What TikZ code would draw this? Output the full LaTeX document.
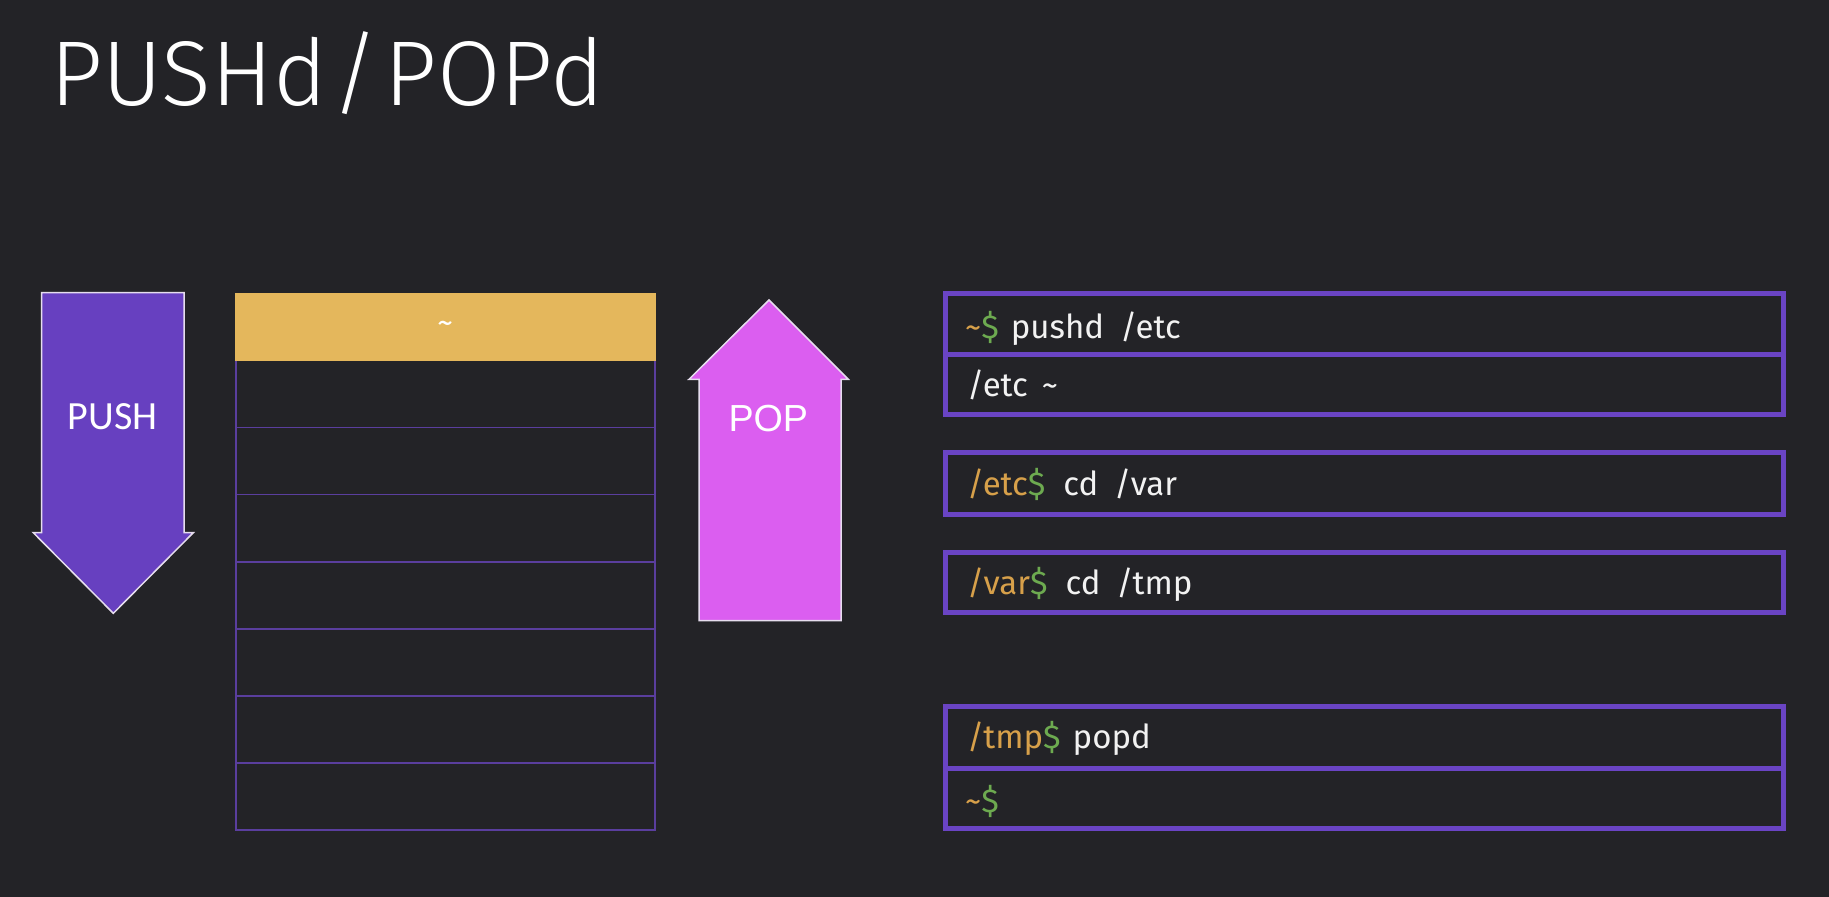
\documentclass[tikz,border=0pt]{standalone}
\usepackage{fontspec}
\setmainfont{Fira Sans}
\newfontfamily\titlefont{Fira Sans Light}
\newfontfamily\pushfont{Carlito}
\newfontfamily\popfont{Liberation Sans}
\definecolor{bgc}{HTML}{232327}
\definecolor{pushc}{HTML}{6740C0}
\definecolor{popc}{HTML}{DB5EF0}
\definecolor{topc}{HTML}{E4B75C}
\definecolor{stackc}{HTML}{5A3E9E}
\definecolor{termc}{HTML}{6A44C4}
\definecolor{promptc}{HTML}{D7A04A}
\definecolor{dollarc}{HTML}{6DAA50}
\definecolor{cmdc}{HTML}{F2F2F2}
\definecolor{edgec}{HTML}{E6DDEE}
\newcommand{\pr}[1]{{\color{promptc}#1}}
\newcommand{\dl}{{\color{dollarc}\$}}
\begin{document}
\begin{tikzpicture}[x=1pt,y=-1pt,
  arrowshape/.style={draw=edgec,line width=1.5pt,line join=miter},
  stackrow/.style={draw=stackc,line width=1.5pt,minimum width=419pt,minimum height=67.08pt,inner sep=0,anchor=north west},
  termbox/.style={draw=termc,line width=5pt},
  termtext/.style={anchor=base west,inner sep=0,text=cmdc,font=\fontsize{33}{38}\selectfont}]
\fill[bgc] (0,0) rectangle (1829,897);
\useasboundingbox (0,0) rectangle (1829,897);
% title
\node[anchor=base west,inner sep=0,text=white] (title) at (50,105) {\titlefont\fontsize{92}{100}\selectfont PUSHd\hspace{5pt}/\hspace{5pt}POPd};
% push arrow
\draw[arrowshape,fill=pushc] (41.7,292.7) -- (184,292.7) -- (184,532.7) -- (193.3,532.7) -- (113.3,613.3) -- (33.3,532.7) -- (41.7,532.7) -- cycle;
\node[text=white,font=\pushfont\fontsize{40}{44}\selectfont] (push) at (112.7,416.7) {PUSH};
% pop arrow
\draw[arrowshape,fill=popc] (769,300) -- (848.3,379.3) -- (841,379.3) -- (841,620.7) -- (699,620.7) -- (699,379.3) -- (689,379.3) -- cycle;
\node[text=white,font=\popfont\fontsize{37.7}{44}\selectfont] (pop) at (768.3,418.3) {POP};
% stack
\foreach \i in {1,...,7} {
  \node[stackrow] (s\i) at (235,{292.7+\i*67.08}) {};
}
\node[stackrow,fill=topc,draw=topc,text=white,font=\fontsize{32}{34}\selectfont] (s0) at (235,292.7) {\textasciitilde};
% terminal boxes
\draw[termbox] (945.7,293) rectangle (1783.3,414);
\draw[termbox] (945.7,354) -- (1783.3,354);
\draw[termbox] (945.7,452.7) rectangle (1783.3,514);
\draw[termbox] (945.7,552) rectangle (1783.3,612.7);
\draw[termbox] (945.7,706.5) rectangle (1783.3,828);
\draw[termbox] (945.7,768.5) -- (1783.3,768.5);
% terminal text
\node[termtext] (t1) at (965,338.3) {\pr{\textasciitilde}\dl\hspace{12pt}pushd\hspace{16pt}/etc};
\node[termtext] (t2) at (967,396.7) {/etc\hspace{14pt}\textasciitilde};
\node[termtext] (t3) at (967,495) {\pr{/etc}\dl\hspace{18pt}cd\hspace{16pt}/var};
\node[termtext] (t4) at (967,594) {\pr{/var}\dl\hspace{18pt}cd\hspace{16pt}/tmp};
\node[termtext] (t5) at (967,748.3) {\pr{/tmp}\dl\hspace{12pt}popd};
\node[termtext] (t6) at (965,812.7) {\pr{\textasciitilde}\dl};
\end{tikzpicture}
\end{document}
